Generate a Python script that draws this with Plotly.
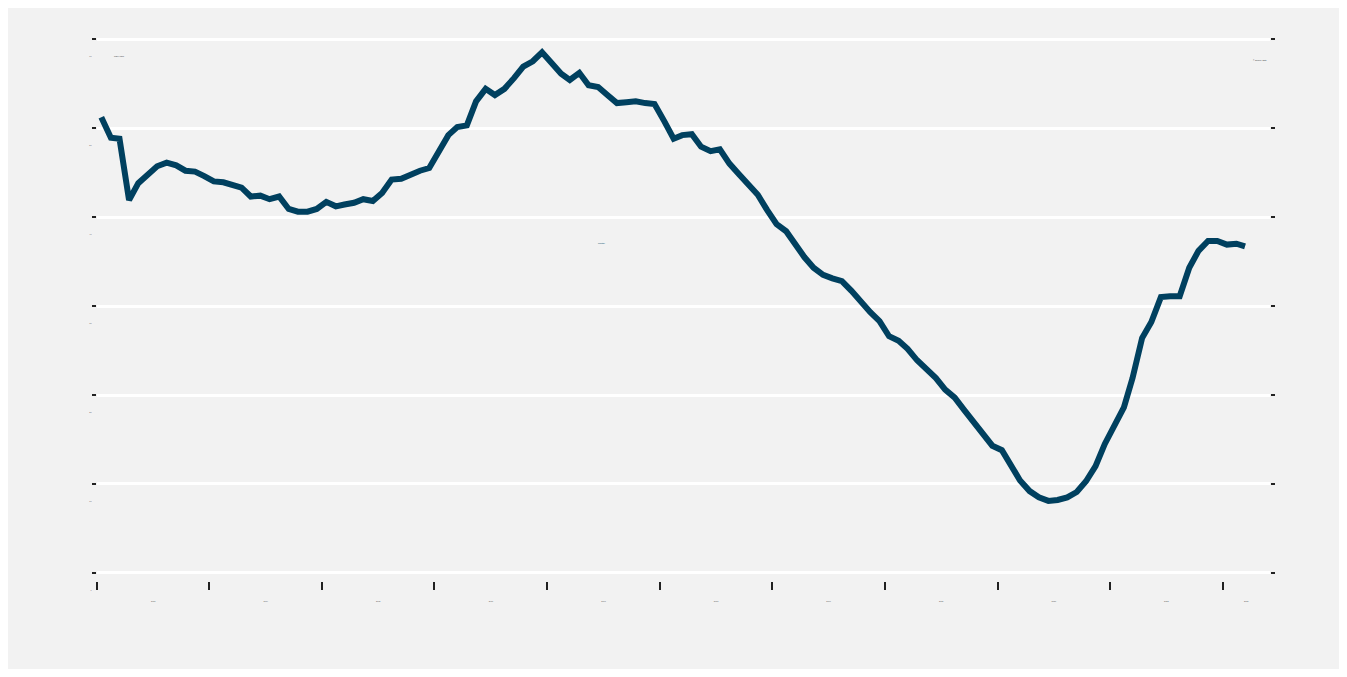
import pandas as pd
import plotly.graph_objects as go

start_month = "2013-01-01"
values = [51.2, 48.9, 48.8, 41.9, 43.8, 44.7, 45.7, 46.1, 45.8, 45.2, 45.1, 44.6,
          44.0, 43.9, 43.6, 43.3, 42.3, 42.4, 42.0, 42.3, 40.9, 40.6, 40.6, 40.9,
          41.7, 41.2, 41.4, 41.6, 42.0, 41.8, 42.7, 44.2, 44.3, 44.8, 45.2, 45.5,
          47.3, 49.2, 50.1, 50.3, 53.0, 54.4, 53.7, 54.4, 55.6, 56.9, 57.5, 58.5,
          57.3, 56.1, 55.4, 56.2, 54.8, 54.6, 53.7, 52.8, 52.9, 53.0, 52.8, 52.7,
          50.8, 48.8, 49.2, 49.3, 47.9, 47.4, 47.6, 46.0, 44.8, 43.7, 42.5, 40.8,
          39.2, 38.4, 36.9, 35.5, 34.3, 33.5, 33.1, 32.8, 31.7, 30.4, 29.3, 28.3,
          26.6, 26.1, 25.2, 23.9, 22.9, 21.9, 20.6, 19.7, 18.3, 17.0, 15.6, 14.3,
          13.8, 12.0, 10.4, 9.2, 8.5, 8.1, 8.2, 8.5, 9.1, 10.3, 12.0, 14.5,
          16.7, 18.6, 21.9, 26.4, 28.2, 31.0, 31.1, 31.1, 34.3, 36.2, 37.3, 37.3,
          36.9, 37.0, 36.7]
dates = pd.date_range(start_month, periods=len(values), freq="MS") + pd.Timedelta(days=14)

y_ticks = [0, 10, 20, 30, 40, 50, 60]
y_labels = ["0", "10", "20", "30", "40", "50", "60"]
x_range = ["2013-01-01", "2023-06-04"]
last_year_label = "2023"

line_color = "#00405f"
bg = "#f2f2f2"

fig = go.Figure()
fig.add_trace(go.Scatter(x=dates, y=values, mode="lines",
                         line=dict(color=line_color, width=6), showlegend=False,
                         name="Index"))

fig.update_layout(
    paper_bgcolor=bg, plot_bgcolor=bg,
    margin=dict(l=89, r=69, t=23, b=88),
    font=dict(family="Liberation Sans", size=2, color="#555555"),
    annotations=[
        dict(text="Index value", x=0.013, y=0.955, xref="paper", yref="paper",
             xanchor="left", yanchor="middle", showarrow=False,
             font=dict(size=2, color="#333333")),
        dict(text="Monthly", x=0.43, y=0.615, xref="paper", yref="paper",
             xanchor="center", yanchor="middle", showarrow=False,
             font=dict(size=2, color=line_color)),
        dict(text="© Source: data", x=0.999, y=0.947, xref="paper", yref="paper",
             xanchor="right", yanchor="middle", showarrow=False,
             font=dict(size=2, color="#333333")),
        dict(text=last_year_label, x=0.98, y=-0.036, xref="paper", yref="paper",
             xanchor="center", yanchor="middle", showarrow=False,
             font=dict(size=2, color="#555555")),
    ],
)
fig.update_xaxes(type="date", range=x_range,
                 dtick="M12", tick0="2013-01-01", tickformat="%Y",
                 ticklabelmode="period", showgrid=False, zeroline=False,
                 ticks="outside", ticklen=8, tickwidth=2, tickcolor="#222222",
                 showline=False, ticklabelstandoff=10,
                 tickfont=dict(size=2, color="#555555"))
fig.update_yaxes(range=[-0.9, 60.9], tickvals=y_ticks, ticktext=y_labels,
                 showgrid=True, gridcolor="white", gridwidth=3, zeroline=False,
                 ticks="outside", ticklen=4, tickwidth=1.5, tickcolor="#222222",
                 mirror="ticks", showline=False, ticklabelshift=17,
                 tickfont=dict(size=2, color="#555555"))

fig.write_html("out.html")
